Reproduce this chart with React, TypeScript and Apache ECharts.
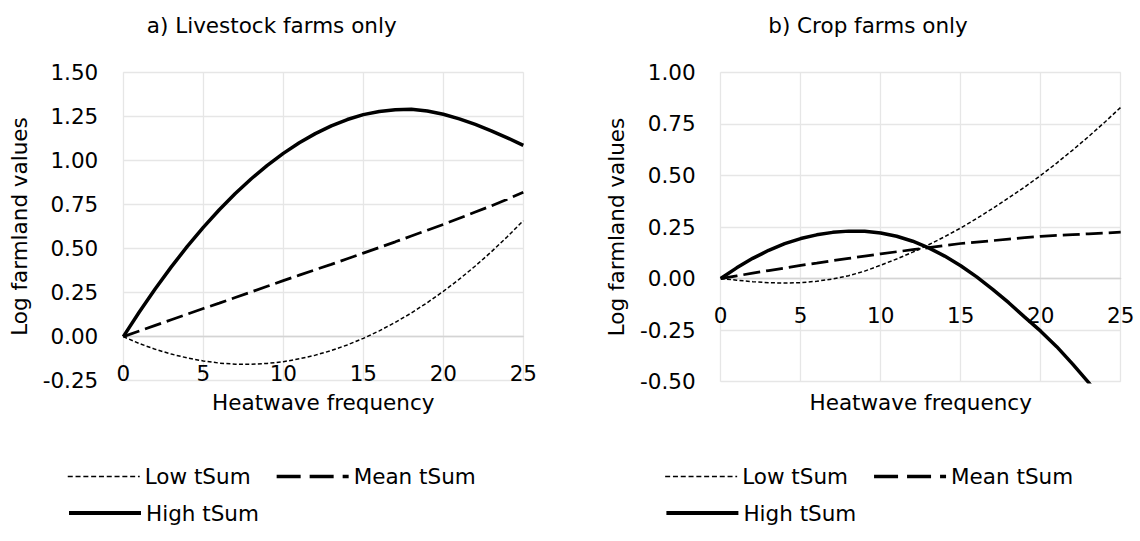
import React, { useEffect, useRef } from "react";
import * as echarts from "echarts";

// Heatwave frequency (x) and predicted log farmland values for each tSum level
const heatwaveFrequency = [
  0, 1, 2, 3, 4, 5, 6, 7, 8, 9, 10, 11, 12, 13, 14, 15, 16, 17, 18, 19, 20, 21,
  22, 23, 24, 25,
];

// a) Livestock farms only
const livestockLow = [
  0, -0.039, -0.072, -0.099, -0.121, -0.138, -0.15, -0.156, -0.157, -0.152,
  -0.142, -0.126, -0.105, -0.079, -0.047, -0.01, 0.033, 0.081, 0.134, 0.193,
  0.257, 0.326, 0.401, 0.481, 0.567, 0.658,
];
const livestockMean = [
  0, 0.032, 0.064, 0.096, 0.128, 0.16, 0.19, 0.222, 0.254, 0.286, 0.318, 0.349,
  0.38, 0.41, 0.442, 0.474, 0.506, 0.538, 0.571, 0.604, 0.637, 0.672, 0.707,
  0.742, 0.78, 0.82,
];
const livestockHigh = [
  0, 0.14, 0.272, 0.396, 0.512, 0.62, 0.72, 0.812, 0.896, 0.972, 1.04, 1.1,
  1.152, 1.196, 1.232, 1.26, 1.278, 1.288, 1.29, 1.28, 1.262, 1.236, 1.204,
  1.168, 1.128, 1.085,
];

// b) Crop farms only
const cropLow = [
  0, -0.008, -0.015, -0.02, -0.022, -0.02, -0.013, -0.002, 0.014, 0.036, 0.065,
  0.095, 0.128, 0.164, 0.203, 0.245, 0.291, 0.34, 0.391, 0.444, 0.5, 0.56,
  0.623, 0.689, 0.758, 0.83,
];
const cropMean = [
  0, 0.013, 0.026, 0.039, 0.051, 0.064, 0.075, 0.087, 0.098, 0.109, 0.12, 0.13,
  0.14, 0.15, 0.16, 0.17, 0.177, 0.184, 0.191, 0.198, 0.205, 0.209, 0.213,
  0.217, 0.221, 0.225,
];
const cropHigh = [
  0, 0.052, 0.098, 0.137, 0.169, 0.194, 0.212, 0.224, 0.23, 0.229, 0.221, 0.205,
  0.181, 0.149, 0.109, 0.062, 0.008, -0.052, -0.117, -0.187, -0.255, -0.33,
  -0.415, -0.505, -0.6, -0.7,
];

const panelTitles = ["a) Livestock farms only", "b) Crop farms only"];
const seriesNames = ["Low tSum", "Mean tSum", "High tSum"];
const yRanges = [
  { min: -0.25, max: 1.5 },
  { min: -0.5, max: 1.0 },
];

const FONT = "DejaVu Sans";
const FS = 21.5;
const TEXT = "#000";
const GRID_LINE = "#e6e6e6";

const pairs = (ys: number[]) => heatwaveFrequency.map((x, i) => [x, ys[i]]);

const lineStyles = [
  { type: [4, 2.3], width: 1.5 },
  { type: [17, 6], width: 2.75 },
  { type: "solid", width: 3.5 },
];
const legendLineStyles = [
  { type: [5, 2.8], width: 1.5 },
  { type: [24, 9], width: 3.3 },
  { type: "solid", width: 4 },
];

export default function App() {
  const ref = useRef<HTMLDivElement>(null);

  useEffect(() => {
    if (!ref.current) return;
    const chart = echarts.init(ref.current, undefined, { renderer: "svg" });

    // plot rectangles: [left, top, width, height]
    const plots = [
      [123.3, 72.3, 400, 308.4],
      [720.7, 72.3, 400, 309.4],
    ];
    // distance from the plot bottom up to the zero line
    const zeroOffsets = [44.0, 103.4];
    const textStyle = { fontFamily: FONT, fontSize: FS, color: TEXT };

    const panels = [
      [livestockLow, livestockMean, livestockHigh],
      [cropLow, cropMean, cropHigh],
    ];

    const series: any[] = [];
    panels.forEach((panel, p) => {
      panel.forEach((ys, s) => {
        series.push({
          type: "line",
          name: seriesNames[s],
          xAxisIndex: p,
          yAxisIndex: p,
          data: pairs(ys),
          symbol: "none",
          clip: true,
          lineStyle: { color: "#000", ...lineStyles[s] },
          itemStyle: { color: "#000" },
          z: 3 + s,
        });
      });
    });

    const legendRows = [
      { name: "Low tSum", dx: 67, top: 465.5 },
      { name: "Mean tSum", dx: 275, top: 465.5 },
      { name: "High tSum", dx: 67, top: 502 },
    ];
    const legends: any[] = [];
    [0, 597.4].forEach((offset) => {
      legendRows.forEach((row, i) => {
        legends.push({
          data: [row.name],
          left: row.dx + offset,
          top: row.top,
          orient: "horizontal",
          padding: 0,
          itemWidth: 72,
          itemHeight: 14,
          itemGap: 0,
          selectedMode: false,
          itemStyle: { opacity: 0, borderWidth: 0 },
          lineStyle: { color: "#000", ...legendLineStyles[i] },
          textStyle: { ...textStyle },
        });
      });
    });

    const option: any = {
      animation: false,
      backgroundColor: "#fff",
      title: panelTitles.map((t, i) => ({
        text: t,
        left: [271.7, 868][i],
        top: 14,
        textAlign: "center",
        padding: 0,
        textStyle: { ...textStyle, fontWeight: "normal" },
      })),
      legend: legends,
      grid: plots.map((r) => ({
        left: r[0],
        top: r[1],
        width: r[2],
        height: r[3],
        outerBoundsMode: "none",
      })),
      xAxis: [0, 1].map((i) => ({
        type: "value",
        gridIndex: i,
        min: 0,
        max: 25,
        interval: 5,
        offset: -zeroOffsets[i],
        axisLine: {
          onZero: false,
          lineStyle: { color: "#d4d4d4", width: 1.3 },
        },
        axisTick: { show: false },
        axisLabel: { ...textStyle, margin: 26 },
        splitLine: { show: true, lineStyle: { color: GRID_LINE, width: 1.3 } },
        name: "Heatwave frequency",
        nameLocation: "middle",
        nameGap: 391.5 - (plots[i][1] + plots[i][3] - zeroOffsets[i]),
        nameTextStyle: textStyle,
      })),
      yAxis: [0, 1].map((i) => ({
        type: "value",
        gridIndex: i,
        min: yRanges[i].min,
        max: yRanges[i].max,
        interval: 0.25,
        axisLine: { show: false },
        axisTick: { show: false },
        axisLabel: {
          ...textStyle,
          margin: 25,
          formatter: (v: number) => v.toFixed(2),
        },
        splitLine: { show: true, lineStyle: { color: GRID_LINE, width: 1.3 } },
        name: "Log farmland values",
        nameLocation: "middle",
        nameGap: 93,
        nameTextStyle: textStyle,
      })),
      series,
    };

    chart.setOption(option);
    return () => chart.dispose();
  }, []);

  return (
    <div
      ref={ref}
      style={{ position: "absolute", left: 0, top: 0, width: 1140, height: 541 }}
    />
  );
}
